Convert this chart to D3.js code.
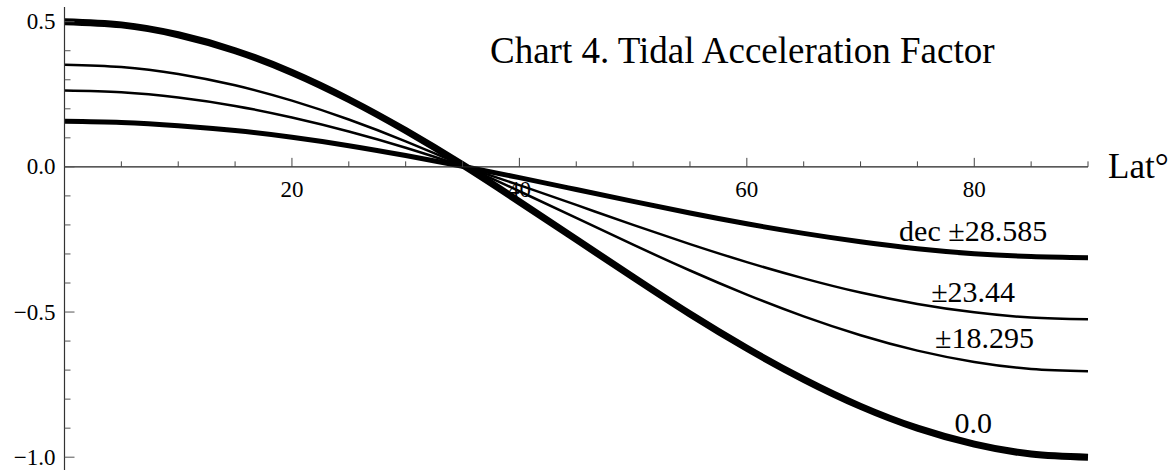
<!DOCTYPE html>
<html>
<head>
<meta charset='utf-8'>
<script src='https://d3js.org/d3.v7.min.js'></script>
<style>
body {margin: 0; background: white;}
text {font-family: 'Liberation Serif', 'Times New Roman', serif; fill: black;}
.curve {fill: none; stroke: black;}
</style>
</head>
<body onload='init()'>
<script>
// latitude in degrees, every 5
var lat = [0,5,10,15,20,25,30,35,40,45,50,55,60,65,70,75,80,85,90];

var dec0 = [0.500,0.489,0.455,0.400,0.325,0.232,0.125,0.007,-0.120,-0.250,-0.380,-0.507,-0.625,-0.732,-0.825,-0.900,-0.955,-0.989,-1.000];
var dec18 = [0.352,0.344,0.320,0.281,0.228,0.163,0.088,0.005,-0.084,-0.176,-0.268,-0.357,-0.440,-0.515,-0.580,-0.633,-0.672,-0.696,-0.704];
var dec23 = [0.263,0.257,0.239,0.210,0.170,0.122,0.066,0.003,-0.063,-0.131,-0.200,-0.266,-0.328,-0.384,-0.433,-0.472,-0.501,-0.519,-0.525];
var dec28 = [0.157,0.153,0.142,0.125,0.102,0.073,0.039,0.002,-0.037,-0.078,-0.119,-0.159,-0.196,-0.229,-0.258,-0.282,-0.299,-0.309,-0.313];

var xMajor = [20,40,60,80];
var xMinor = [5,10,15,25,30,35,45,50,55,65,70,75,85,90];
var yMajor = [0.5,0.0,-0.5,-1.0];
var yMinor = [0.4,0.3,0.2,0.1,-0.1,-0.2,-0.3,-0.4,-0.6,-0.7,-0.8,-0.9];

var series = [
  {name:'0.0', values:dec0, width:7, label:'0.0', lx:79.9, ly:-0.917},
  {name:'18.295', values:dec18, width:2.5, label:'\u00b118.295', lx:80.9, ly:-0.624},
  {name:'23.44', values:dec23, width:2.5, label:'\u00b123.44', lx:79.9, ly:-0.465},
  {name:'28.585', values:dec28, width:5, label:'dec \u00b128.585', lx:79.9, ly:-0.255}
];

function init() {

var x = d3.scaleLinear().domain([0,90]).range([64.5,1088]);
var y = d3.scaleLinear().domain([0.5,-1.0]).range([21.7,457.2]);

var svg = d3.select('body')
.append('svg')
.attr('width',1175)
.attr('height',470);

//curves
var line = d3.line()
.x(function(d){return x(d[0]);})
.y(function(d){return y(d[1]);})
.curve(d3.curveNatural);

svg.append('g')
.selectAll('path')
.data(series)
.enter()
.append('path')
.attr('class','curve')
.attr('stroke-width',function(d){return d.width;})
.attr('d',function(d){return line(d.values.map(function(v,i){return [lat[i],v];}));});

//x axis
var xg = svg.append('g').attr('transform','translate(0,'+y(0)+')');
xg.append('line')
.attr('x1',x(0)).attr('x2',x(90))
.attr('stroke','#222').attr('stroke-width',1.2);
xg.selectAll('.xmaj').data(xMajor).enter().append('line')
.attr('x1',function(d){return x(d);}).attr('x2',function(d){return x(d);})
.attr('y1',0).attr('y2',-9)
.attr('stroke','#444').attr('stroke-width',1);
xg.selectAll('.xmin').data(xMinor).enter().append('line')
.attr('x1',function(d){return x(d);}).attr('x2',function(d){return x(d);})
.attr('y1',0).attr('y2',-5.5)
.attr('stroke','#444').attr('stroke-width',1);
xg.selectAll('text').data(xMajor).enter().append('text')
.attr('x',function(d){return x(d);})
.attr('y',30)
.style('text-anchor','middle')
.style('font-size','23px')
.text(function(d){return d;});

//y axis
var yg = svg.append('g').attr('transform','translate('+x(0)+',0)');
yg.append('line')
.attr('y1',7).attr('y2',470)
.attr('stroke','#333').attr('stroke-width',1.2);
yg.selectAll('.ymaj').data(yMajor).enter().append('line')
.attr('y1',function(d){return y(d);}).attr('y2',function(d){return y(d);})
.attr('x1',0).attr('x2',10)
.attr('stroke','#555').attr('stroke-width',1);
yg.selectAll('.ymin').data(yMinor).enter().append('line')
.attr('y1',function(d){return y(d);}).attr('y2',function(d){return y(d);})
.attr('x1',0).attr('x2',6)
.attr('stroke','#555').attr('stroke-width',1);
yg.selectAll('text').data(yMajor).enter().append('text')
.attr('x',-9)
.attr('y',function(d){return y(d)+7.5;})
.style('text-anchor','end')
.style('font-size','23px')
.text(function(d){return d3.format('.1f')(d).replace('-','\u2212');});

//axis label
svg.append('text')
.attr('x',1108)
.attr('y',178)
.style('font-size','35px')
.text('Lat\u00b0');

//title
svg.append('text')
.attr('x',490)
.attr('y',63)
.style('font-size','37px')
.text('Chart 4. Tidal Acceleration Factor');

//curve labels
svg.append('g')
.selectAll('text')
.data(series)
.enter()
.append('text')
.attr('x',function(d){return x(d.lx);})
.attr('y',function(d){return y(d.ly);})
.style('text-anchor','middle')
.style('font-size','30px')
.text(function(d){return d.label;});

}
</script>
</body>
</html>
